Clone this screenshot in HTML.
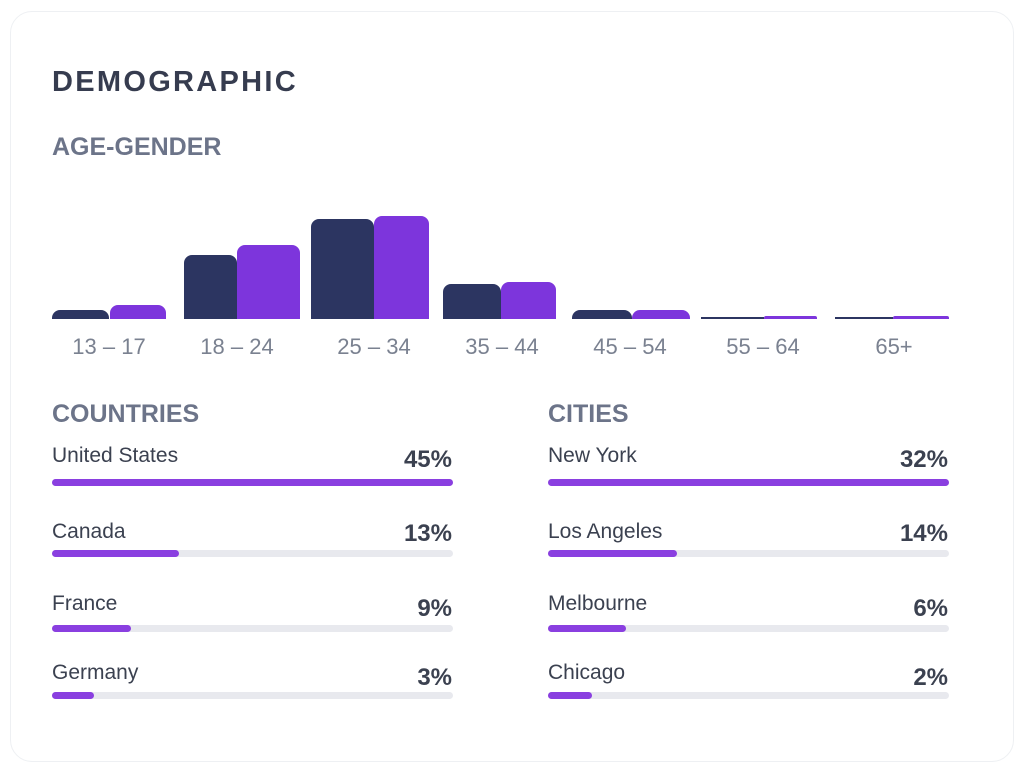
<!DOCTYPE html>
<html><head><style>
body{margin:0;width:1024px;height:769px;background:#fff;font-family:"Liberation Sans",sans-serif;position:relative;overflow:hidden}
.card{position:absolute;left:10px;top:11px;width:1002px;height:749px;border:1px solid #eef0f3;border-radius:22px}
.t{position:absolute;white-space:nowrap}
.b{position:absolute;border-radius:8px 8px 0 0}
.n{background:#2c3561}.p{background:#7d35dc}
.lbl{position:absolute;top:334px;font-size:22px;color:#7a8190;text-align:center;width:120px}
.row .name{position:absolute;font-size:21px;color:#3b4150}
.row .pct{position:absolute;font-size:24px;font-weight:bold;color:#3b4150;text-align:right;width:100px}
.track{position:absolute;height:7px;background:#e8e9ee;border-radius:4px;width:401px}
.fill{height:7px;background:#8a3fe0;border-radius:4px}
</style></head><body>
<div class="card"></div>
<div class="t" style="left:52px;top:66px;font-size:29px;font-weight:bold;letter-spacing:2.3px;color:#363c4f">DEMOGRAPHIC</div>
<div class="t" style="left:52px;top:133px;font-size:25px;font-weight:bold;color:#6c7489">AGE-GENDER</div>

<div class="b n" style="left:52px;top:310px;width:57px;height:9px"></div>
<div class="b p" style="left:110px;top:305px;width:56px;height:14px"></div>
<div class="b n" style="left:184px;top:255px;width:53px;height:64px"></div>
<div class="b p" style="left:237px;top:245px;width:63px;height:74px"></div>
<div class="b n" style="left:311px;top:219px;width:63px;height:100px"></div>
<div class="b p" style="left:374px;top:216px;width:55px;height:103px"></div>
<div class="b n" style="left:443px;top:284px;width:58px;height:35px"></div>
<div class="b p" style="left:501px;top:282px;width:55px;height:37px"></div>
<div class="b n" style="left:572px;top:310px;width:60px;height:9px"></div>
<div class="b p" style="left:632px;top:310px;width:58px;height:9px"></div>
<div class="b n" style="left:701px;top:317px;width:63px;height:2px;border-radius:0"></div>
<div class="b p" style="left:764px;top:316px;width:53px;height:3px;border-radius:2px 2px 0 0"></div>
<div class="b n" style="left:835px;top:317px;width:58px;height:2px;border-radius:0"></div>
<div class="b p" style="left:893px;top:316px;width:56px;height:3px;border-radius:2px 2px 0 0"></div>

<div class="lbl" style="left:49px">13 – 17</div>
<div class="lbl" style="left:177px">18 – 24</div>
<div class="lbl" style="left:314px">25 – 34</div>
<div class="lbl" style="left:442px">35 – 44</div>
<div class="lbl" style="left:570px">45 – 54</div>
<div class="lbl" style="left:703px">55 – 64</div>
<div class="lbl" style="left:834px">65+</div>

<div class="t" style="left:52px;top:400px;font-size:25px;font-weight:bold;color:#6c7489">COUNTRIES</div>
<div class="t" style="left:548px;top:400px;font-size:25px;font-weight:bold;color:#6c7489">CITIES</div>

<div class="row">
<div class="name" style="left:52px;top:444px">United States</div><div class="pct" style="left:352px;top:446px">45%</div>
<div class="track" style="left:52px;top:479px"><div class="fill" style="width:401px"></div></div>
<div class="name" style="left:52px;top:520px">Canada</div><div class="pct" style="left:352px;top:520px">13%</div>
<div class="track" style="left:52px;top:550px"><div class="fill" style="width:127px"></div></div>
<div class="name" style="left:52px;top:592px">France</div><div class="pct" style="left:352px;top:595px">9%</div>
<div class="track" style="left:52px;top:625px"><div class="fill" style="width:79px"></div></div>
<div class="name" style="left:52px;top:661px">Germany</div><div class="pct" style="left:352px;top:664px">3%</div>
<div class="track" style="left:52px;top:692px"><div class="fill" style="width:42px"></div></div>

<div class="name" style="left:548px;top:444px">New York</div><div class="pct" style="left:848px;top:446px">32%</div>
<div class="track" style="left:548px;top:479px"><div class="fill" style="width:401px"></div></div>
<div class="name" style="left:548px;top:520px">Los Angeles</div><div class="pct" style="left:848px;top:520px">14%</div>
<div class="track" style="left:548px;top:550px"><div class="fill" style="width:129px"></div></div>
<div class="name" style="left:548px;top:592px">Melbourne</div><div class="pct" style="left:848px;top:595px">6%</div>
<div class="track" style="left:548px;top:625px"><div class="fill" style="width:78px"></div></div>
<div class="name" style="left:548px;top:661px">Chicago</div><div class="pct" style="left:848px;top:664px">2%</div>
<div class="track" style="left:548px;top:692px"><div class="fill" style="width:44px"></div></div>
</div>
</body></html>
